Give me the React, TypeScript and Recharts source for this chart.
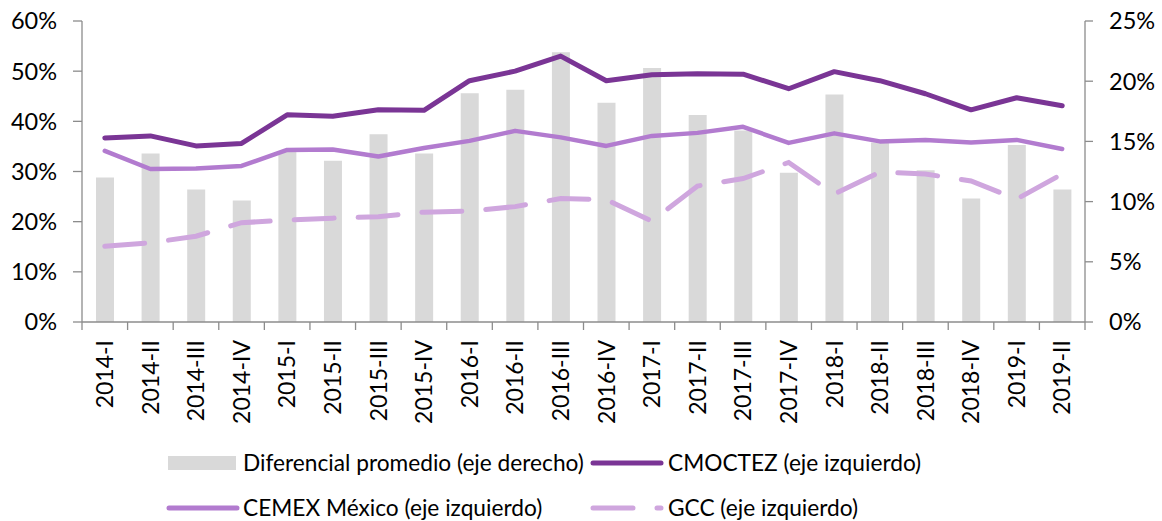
import React from "react";
import {
  ComposedChart,
  Bar,
  Line,
  XAxis,
  YAxis,
} from "recharts";

const categories = [
  "2014-I", "2014-II", "2014-III", "2014-IV",
  "2015-I", "2015-II", "2015-III", "2015-IV",
  "2016-I", "2016-II", "2016-III", "2016-IV",
  "2017-I", "2017-II", "2017-III", "2017-IV",
  "2018-I", "2018-II", "2018-III", "2018-IV",
  "2019-I", "2019-II",
];

// right axis (%)
const diferencial = [
  12.0, 14.0, 11.0, 10.1, 14.2, 13.4, 15.6, 14.0, 19.0, 19.3, 22.4,
  18.2, 21.1, 17.2, 15.9, 12.4, 18.9, 14.9, 12.6, 10.25, 14.7, 11.0,
];

// left axis (%)
const cmoctez = [
  36.7, 37.1, 35.1, 35.6, 41.3, 41.0, 42.3, 42.2, 48.1, 50.0, 53.0,
  48.1, 49.3, 49.5, 49.4, 46.5, 49.9, 48.1, 45.5, 42.3, 44.7, 43.1,
];
const cemex = [
  34.1, 30.5, 30.6, 31.1, 34.3, 34.4, 33.0, 34.7, 36.1, 38.1, 36.8,
  35.1, 37.1, 37.7, 38.9, 35.7, 37.6, 36.0, 36.3, 35.8, 36.3, 34.5,
];
const gcc = [
  15.1, 15.8, 17.1, 19.8, 20.3, 20.7, 21.0, 21.9, 22.1, 23.0, 24.6,
  24.4, 20.1, 27.1, 28.6, 31.8, 25.5, 29.9, 29.5, 28.1, 24.5, 29.5,
];

const leftTicks = [0, 10, 20, 30, 40, 50, 60];
const rightTicks = [0, 5, 10, 15, 20, 25];

const data = categories.map((c, i) => ({
  name: c,
  diferencial: diferencial[i],
  cmoctez: cmoctez[i],
  cemex: cemex[i],
  gcc: gcc[i],
}));

const FONT = "Lato, 'Open Sans', sans-serif";
const AXIS = "#8c8c8c";
const BAR = "#d9d9d9";
const DARK = "#7a3595";
const MID = "#b27bcf";
const LIGHT = "#cfa6de";

const W = 1162;
const H = 521;
const LEFT_W = 82;
const RIGHT_W = 77;
const STEP = (W - LEFT_W - RIGHT_W) / categories.length;

const XTick = (props: any) => {
  const { x, y, payload, index, visibleTicksCount } = props;
  const last = index === visibleTicksCount - 1;
  return (
    <g>
      <line x1={x - STEP / 2} x2={x - STEP / 2} y1={y} y2={y + 8} stroke={AXIS} strokeWidth={1.3} />
      {last && (
        <line x1={x + STEP / 2} x2={x + STEP / 2} y1={y} y2={y + 8} stroke={AXIS} strokeWidth={1.3} />
      )}
      <text
        x={x}
        y={y + 18}
        dy="0.36em"
        transform={`rotate(-90, ${x}, ${y + 18})`}
        textAnchor="end"
        fontSize={23}
        fontFamily={FONT}
        fill="#000"
      >
        {payload.value}
      </text>
    </g>
  );
};

const legendText: React.CSSProperties = {
  position: "absolute",
  fontSize: 22.7,
  fontFamily: FONT,
  color: "#000",
  lineHeight: "22px",
  whiteSpace: "nowrap",
};

const Legend = () => (
  <>
    <div style={{ position: "absolute", left: 168, top: 456, width: 68, height: 14, background: BAR }} />
    <div style={{ ...legendText, left: 243, top: 452 }}>Diferencial promedio (eje derecho)</div>
    <svg style={{ position: "absolute", left: 588, top: 455 }} width={80} height={16}>
      <line x1={5} x2={73} y1={8} y2={8} stroke={DARK} strokeWidth={5} strokeLinecap="round" />
    </svg>
    <div style={{ ...legendText, left: 668, top: 452 }}>CMOCTEZ (eje izquierdo)</div>

    <svg style={{ position: "absolute", left: 164, top: 500 }} width={80} height={16}>
      <line x1={5} x2={73} y1={8} y2={8} stroke={MID} strokeWidth={5} strokeLinecap="round" />
    </svg>
    <div style={{ ...legendText, left: 243, top: 497 }}>CEMEX México (eje izquierdo)</div>
    <svg style={{ position: "absolute", left: 588, top: 500 }} width={80} height={16}>
      <line x1={5} x2={73} y1={8} y2={8} stroke={LIGHT} strokeWidth={5} strokeLinecap="round" strokeDasharray="40 24" />
    </svg>
    <div style={{ ...legendText, left: 668, top: 497 }}>GCC (eje izquierdo)</div>
  </>
);

export default function App() {
  return (
    <div style={{ position: "absolute", left: 0, top: 0, width: W, height: H, background: "#fff", fontFamily: FONT }}>
      <ComposedChart
        width={W}
        height={H}
        data={data}
        margin={{ top: 21, right: 0, left: 0, bottom: 0 }}
      >
        <XAxis
          dataKey="name"
          interval={0}
          height={H - 322}
          tickLine={false}
          tickSize={0}
          tickMargin={0}
          axisLine={{ stroke: AXIS, strokeWidth: 1.3 }}
          tick={<XTick />}
        />
        <YAxis
          yAxisId="left"
          orientation="left"
          width={LEFT_W}
          domain={[0, 60]}
          ticks={leftTicks}
          tickFormatter={(v) => `${v}%`}
          axisLine={{ stroke: AXIS, strokeWidth: 1.3 }}
          tickLine={{ stroke: AXIS, strokeWidth: 1.3 }}
          tickSize={9}
          tickMargin={16}
          tick={{ fontSize: 23.5, fill: "#000", fontFamily: FONT }}
        />
        <YAxis
          yAxisId="right"
          orientation="right"
          width={RIGHT_W}
          domain={[0, 25]}
          ticks={rightTicks}
          tickFormatter={(v) => `${v}%`}
          axisLine={{ stroke: AXIS, strokeWidth: 1.3 }}
          tickLine={{ stroke: AXIS, strokeWidth: 1.3 }}
          tickSize={8}
          tickMargin={16}
          tick={{ fontSize: 23.5, fill: "#000", fontFamily: FONT }}
        />
        <Bar yAxisId="right" dataKey="diferencial" fill={BAR} barSize={18} isAnimationActive={false} />
        <Line
          yAxisId="left"
          dataKey="gcc"
          stroke={LIGHT}
          strokeWidth={5}
          strokeDasharray="40 24"
          strokeLinecap="round"
          dot={false}
          activeDot={false}
          isAnimationActive={false}
        />
        <Line
          yAxisId="left"
          dataKey="cemex"
          stroke={MID}
          strokeWidth={4.5}
          strokeLinecap="round"
          strokeLinejoin="round"
          dot={false}
          activeDot={false}
          isAnimationActive={false}
        />
        <Line
          yAxisId="left"
          dataKey="cmoctez"
          stroke={DARK}
          strokeWidth={5}
          strokeLinecap="round"
          strokeLinejoin="round"
          dot={false}
          activeDot={false}
          isAnimationActive={false}
        />
      </ComposedChart>
      <Legend />
    </div>
  );
}
